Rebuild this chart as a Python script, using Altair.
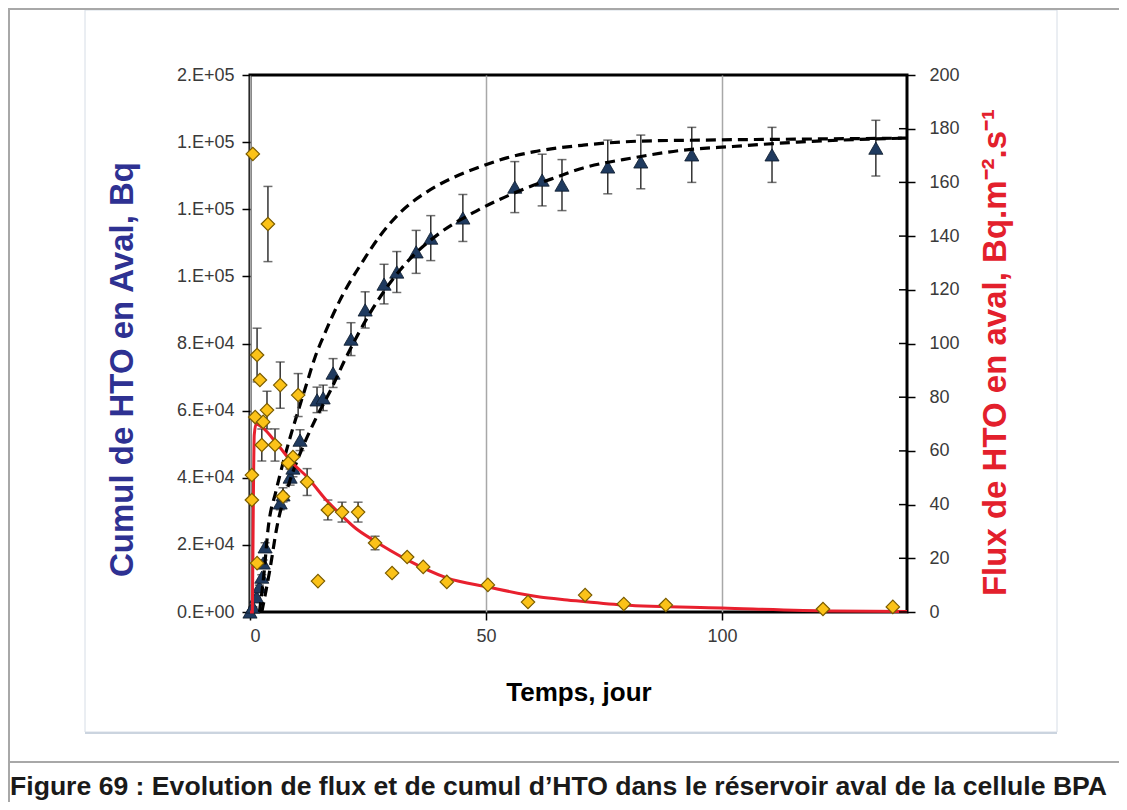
import altair as alt
import pandas as pd

# ---------------- data ----------------
# cumulative HTO (left axis, Bq) - measured points with error bars
cum_t = [0, 0.6, 1.4, 2.0, 2.5, 2.8, 3.2, 6.4, 7.0, 8.5, 9.1, 10.6, 14.2, 15.5, 17.6, 21.4,
         24.4, 28.4, 31.1, 35.2, 38.3, 45.1, 56.1, 61.9, 66.1, 75.8, 82.8, 93.6, 110.6, 132.6]
cum_v = [0, 1500, 4500, 7500, 10400, 14600, 19400, 32500, 34900, 40200, 42900, 51200, 63200,
         63800, 71200, 81300, 90000, 97700, 101300, 107300, 111400, 117400, 126600, 128700,
         127200, 132600, 134100, 136200, 136200, 138200]
cum_err = [0, 100, 300, 500, 700, 900, 1200, 2000, 2100, 2400, 2600, 3100, 3800, 3800, 4300,
           4900, 5400, 5900, 6100, 6400, 6700, 7000, 7600, 7700, 7600, 8000, 8000, 8200, 8200, 8300]

# cumulative model curves (dashed)
up_t = [2.0, 3.0, 3.8, 5.5, 7.0, 8.5, 10.6, 12.0, 13.8, 15.5, 19.1, 23.9, 27.5, 31.8, 37.5,
        43.0, 48.7, 54.4, 60.0, 70.6, 82.6, 95.3, 116.5, 139.2]
up_v = [0, 12000, 24400, 36000, 44400, 52000, 61700, 68000, 76000, 81900, 93000, 104500,
        112000, 119000, 125200, 129400, 132600, 135300, 137100, 139100, 140300, 140600,
        140900, 141200]
lo_t = [2.5, 4.2, 5.7, 8.5, 11.2, 13.8, 17.4, 20.1, 26.1, 31.8, 40.3, 47.2, 53.0, 57.8, 63.6,
        70.6, 81.1, 91.7, 102.3, 116.0, 139.2]
lo_v = [0, 12500, 25300, 39300, 49200, 57200, 67000, 75100, 90600, 101900, 113000, 118900,
        123000, 125900, 128900, 132300, 135300, 137600, 138700, 140000, 141200]

# flux of HTO (right axis, Bq.m-2.s-1) - measured points
flux_t = [0.6, 3.8, 1.5, 2.1, 6.4, 10.2, 3.6, 1.1, 2.8, 2.5, 5.3, 9.1, 8.1, 0.4, 12.1, 7.0,
          0.4, 16.5, 19.5, 22.9, 1.5, 14.4, 26.5, 30.1, 33.3, 36.7, 41.7, 50.4, 58.9, 71.0,
          79.2, 88.1, 121.4, 136.2]
flux_v = [170.6, 144.5, 95.7, 86.4, 84.5, 80.8, 75.2, 72.6, 70.8, 62.2, 62.2, 57.7, 55.5,
          51.0, 48.4, 43.0, 41.7, 38.0, 37.2, 37.2, 18.2, 11.5, 25.7, 14.5, 20.5, 16.8, 11.2,
          10.1, 3.7, 6.3, 3.0, 2.6, 1.1, 1.9]
flux_err = [0, 14, 10, 0, 8.6, 8, 7, 0, 0, 6, 6, 0, 0, 0, 5, 0, 0, 3.7, 3.7, 3.7, 0, 0, 2.5,
            0, 0, 0, 0, 0, 0, 0, 0, 0, 0, 0]

# flux model curve (red)
fit_t = [0, 0.5, 0.7, 0.9, 1.3, 2.5, 6.0, 9.0, 12.1, 16.0, 19.1, 22.5, 26.1, 33.3, 41.7, 50.4,
         61.4, 67.2, 79.0, 100.0, 123.5, 139.2]
fit_v = [0, 0, 40, 66, 70, 68.9, 62, 55.5, 50.3, 42, 36.5, 31, 26.8, 19.4, 12.7, 9.3, 5.6,
         4.5, 2.6, 1.5, 0.4, 0.2]

# axes
x_ticks = [0, 50, 100]
left_ticks = [0, 20000, 40000, 60000, 80000, 100000, 120000, 140000, 160000]
left_labels = ['0.E+00', '2.E+04', '4.E+04', '6.E+04', '8.E+04', '1.E+05', '1.E+05', '1.E+05', '2.E+05']
right_ticks = [0, 20, 40, 60, 80, 100, 120, 140, 160, 180, 200]

x_title = 'Temps, jour'
left_title = 'Cumul  de HTO en Aval, Bq'
right_title = 'Flux de HTO en aval,  Bq.m\u207b\u00b2.s\u207b\u00b9'
caption = 'Figure 69 : Evolution de flux et de cumul d\u2019HTO dans le r\u00e9servoir aval de la cellule BPA'

# ---------------- styling ----------------
FONT = 'Liberation Sans'
W, H = 657, 537
X_MAX = 139.2
LBL = 18

cum_df = pd.DataFrame({'t': cum_t, 'v': cum_v, 'err': cum_err})
cum_df['lo'] = cum_df['v'] - cum_df['err']
cum_df['hi'] = cum_df['v'] + cum_df['err']
flux_df = pd.DataFrame({'t': flux_t, 'v': flux_v, 'err': flux_err})
flux_df['lo'] = flux_df['v'] - flux_df['err']
flux_df['hi'] = flux_df['v'] + flux_df['err']
model_df = pd.concat([
    pd.DataFrame({'t': up_t, 'v': up_v, 'model': 'a'}),
    pd.DataFrame({'t': lo_t, 'v': lo_v, 'model': 'b'}),
])
fit_df = pd.DataFrame({'t': fit_t, 'v': fit_v})
rt_df = pd.DataFrame({'v': right_ticks})

step = left_ticks[1] - left_ticks[0]
label_expr = '[' + ','.join("'%s'" % s for s in left_labels) + '][round(datum.value/%d)]' % step


def X():
    return alt.X('t:Q', scale=alt.Scale(domain=[0, X_MAX], nice=False, zero=False),
                 axis=alt.Axis(values=x_ticks, title=x_title, grid=True, gridColor='#A8A8A8',
                               gridWidth=1.5, domain=False, tickColor='black', tickSize=8,
                               tickWidth=1.5, labelFont=FONT, labelFontSize=LBL,
                               labelColor='#3a3a3a', labelPadding=7, titleFont=FONT,
                               titleFontSize=26, titleFontWeight='bold', titleColor='black',
                               titleY=80, titleBaseline='middle'))


def YL(f):
    return alt.Y(f + ':Q', scale=alt.Scale(domain=[0, left_ticks[-1]], nice=False),
                 axis=alt.Axis(orient='left', values=left_ticks, labelExpr=label_expr,
                               title=left_title, grid=False, domain=False, tickColor='black',
                               tickSize=8, tickWidth=1.5, labelFont=FONT, labelFontSize=LBL,
                               labelColor='#3a3a3a', labelPadding=8, titleFont=FONT,
                               titleFontSize=33, titleFontWeight='bold', titleColor='#2E3192',
                               titleAngle=270, titleX=-128, titleY=294, titleAlign='center',
                               titleBaseline='middle'))


def YR(f):
    return alt.Y(f + ':Q', scale=alt.Scale(domain=[0, right_ticks[-1]], nice=False),
                 axis=alt.Axis(orient='right', values=right_ticks, title=right_title,
                               grid=False, domain=False, tickColor='black', tickSize=8,
                               tickWidth=1.5, labelFont=FONT, labelFontSize=LBL,
                               labelColor='#3a3a3a', labelPadding=14, titleFont=FONT,
                               titleFontSize=33, titleFontWeight='bold', titleColor='#E3202C',
                               titleAngle=270, titleX=88, titleY=277, titleAlign='center',
                               titleBaseline='middle'))


# ---- left (cumulative) group ----
cum_e = alt.Chart(cum_df).transform_filter('datum.err > 0')
cum_rule = cum_e.mark_rule(color='#333333', strokeWidth=1.5).encode(x=X(), y=YL('lo'), y2='hi:Q')
cum_cap1 = cum_e.mark_tick(orient='horizontal', size=9, thickness=1.5, color='#333333').encode(x=X(), y=YL('hi'))
cum_cap2 = cum_e.mark_tick(orient='horizontal', size=9, thickness=1.5, color='#333333').encode(x=X(), y=YL('lo'))
tri = alt.Chart(cum_df).mark_point(shape='triangle-up', filled=True, size=200, fill='#1F3A5F',
                                   stroke='#0D1A2B', strokeWidth=0.8, opacity=1).encode(x=X(), y=YL('v'))
dash = alt.Chart(model_df).mark_line(color='black', strokeWidth=3.2, strokeDash=[10, 6],
                                     interpolate='monotone').encode(
    x=X(), y=YL('v'), detail='model:N', order='t:Q')
left = alt.layer(cum_rule, cum_cap1, cum_cap2, tri, dash)

# ---- right (flux) group ----
fl_e = alt.Chart(flux_df).transform_filter('datum.err > 0')
fl_rule = fl_e.mark_rule(color='#333333', strokeWidth=1.5).encode(x=X(), y=YR('lo'), y2='hi:Q')
fl_cap1 = fl_e.mark_tick(orient='horizontal', size=9, thickness=1.5, color='#333333').encode(x=X(), y=YR('hi'))
fl_cap2 = fl_e.mark_tick(orient='horizontal', size=9, thickness=1.5, color='#333333').encode(x=X(), y=YR('lo'))
red = alt.Chart(fit_df).mark_line(color='#E8202E', strokeWidth=3, interpolate='monotone').encode(
    x=X(), y=YR('v'), order='t:Q')
dia = alt.Chart(flux_df).mark_point(shape='diamond', filled=True, size=180, fill='#FBC218',
                                    stroke='#7A5C00', strokeWidth=1.2, opacity=1).encode(x=X(), y=YR('v'))
inner_ticks = alt.Chart(rt_df).mark_rule(color='black', strokeWidth=1.5).encode(
    y=YR('v'), x=alt.value(W - 8), x2=alt.value(W))
right = alt.layer(fl_rule, fl_cap1, fl_cap2, red, dia, inner_ticks)

# ---- decorations (page frame, caption) ----
one = pd.DataFrame({'d': [0]})
box = alt.Chart(one).mark_rect(fillOpacity=0, stroke='#D6DDE6', strokeWidth=1).encode(
    x=alt.value(-165), x2=alt.value(807), y=alt.value(-65), y2=alt.value(657))
box_shadow = alt.Chart(one).mark_rule(color='#CBD4DF', strokeWidth=2).encode(
    x=alt.value(-165), x2=alt.value(807), y=alt.value(658))
frame_left = alt.Chart(one).mark_rule(color='#A8A8A8', strokeWidth=2).encode(
    x=alt.value(-241), y=alt.value(-66), y2=alt.value(727))
frame_top = alt.Chart(one).mark_rule(color='#A8A8A8', strokeWidth=2).encode(
    x=alt.value(-242), x2=alt.value(870), y=alt.value(-66))
frame_sep = alt.Chart(one).mark_rule(color='#A8A8A8', strokeWidth=2).encode(
    x=alt.value(-242), x2=alt.value(870), y=alt.value(687))
cap = alt.Chart(one).mark_text(text=caption, align='left', baseline='alphabetic', font=FONT,
                               fontSize=26.6, fontWeight='bold', color='#1a1a1a').encode(
    x=alt.value(-240), y=alt.value(720))

chart = alt.layer(box, box_shadow, frame_left, frame_top, frame_sep, cap, left, right).resolve_scale(
    y='independent'
).properties(
    width=W, height=H,
    padding={'left': 242, 'top': 67, 'right': 212, 'bottom': 190},
    autosize=alt.AutoSizeParams(type='none'),
    background='white',
).configure_view(stroke='black', strokeWidth=3)

chart.save('out.html', embed_options={'renderer': 'svg', 'actions': False})
